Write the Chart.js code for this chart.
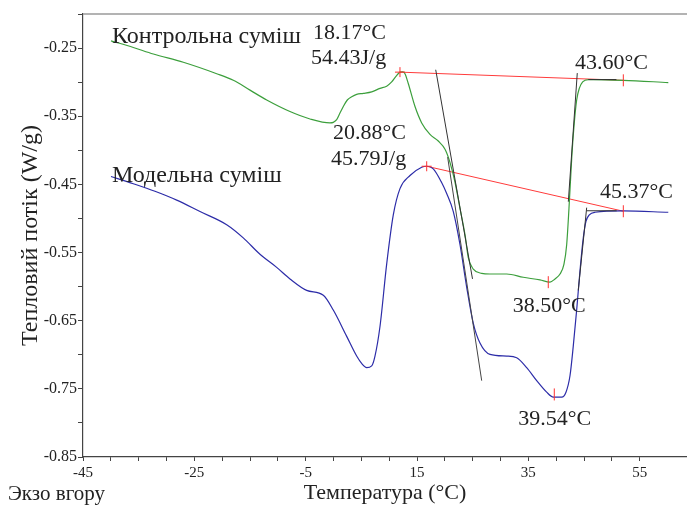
<!DOCTYPE html>
<html>
<head>
<meta charset="utf-8">
<script src="https://cdn.jsdelivr.net/npm/chart.js@4.4.0/dist/chart.umd.min.js"></script>
<style>
  body { margin: 0; background: #fff; }
  #wrap { width: 687px; height: 505px; }
</style>
</head>
<body>
<div id="wrap"><canvas id="dsc" width="687" height="505"></canvas></div>
<script>
// Контрольна суміш (green)
var controlTemp = [-39.97, -35.96, -32.37, -26.98, -20.98, -18.0, -15.0, -12.0, -7.82, -4.22, -0.63, -0.04, 0.57, 1.16, 1.76, 2.48, 3.27, 4.16, 5.35, 6.86, 8.35, 9.55, 10.45, 11.22, 11.94, 12.43, 12.84, 13.43, 14.64, 15.84, 17.33, 18.82, 20.03, 20.92, 21.82, 22.72, 23.62, 24.21, 25.11, 26.62, 28.11, 31.11, 34.09, 37.09, 38.89, 39.79, 40.69, 41.40, 41.89, 42.30, 42.78, 43.20, 43.68, 44.15, 44.76, 45.77, 46.67, 52.06, 60.14];
var controlFlow = [-0.2394, -0.2491, -0.2587, -0.2708, -0.2876, -0.2973, -0.3117, -0.3262, -0.3431, -0.3540, -0.3598, -0.3590, -0.3551, -0.3454, -0.3358, -0.3262, -0.3214, -0.3179, -0.3165, -0.3142, -0.3092, -0.3059, -0.2997, -0.2915, -0.2853, -0.2847, -0.2876, -0.3020, -0.3358, -0.3598, -0.3767, -0.3864, -0.3984, -0.4176, -0.4465, -0.4851, -0.5237, -0.5574, -0.5743, -0.5805, -0.5815, -0.5815, -0.5863, -0.5902, -0.5935, -0.5887, -0.5815, -0.5670, -0.5381, -0.4851, -0.4129, -0.3647, -0.3262, -0.3092, -0.2997, -0.2962, -0.2962, -0.2973, -0.3006];

// Модельна суміш (blue)
var modelTemp = [-39.97, -35.96, -32.07, -28.17, -23.98, -19.19, -16.21, -13.21, -10.21, -7.82, -4.82, -1.83, -0.04, 2.37, 4.16, 5.12, 5.96, 6.86, 7.45, 8.35, 9.55, 10.74, 11.94, 13.74, 15.84, 16.74, 17.92, 19.4, 20.33, 21.52, 22.72, 23.92, 25.11, 26.31, 28.11, 31.11, 32.90, 34.70, 36.50, 38.29, 39.48, 40.99, 41.76, 42.48, 43.07, 43.68, 44.28, 44.87, 45.35, 45.95, 46.97, 52.06, 60.14];
var modelFlow = [-0.4384, -0.4490, -0.4601, -0.4731, -0.4899, -0.5092, -0.5285, -0.5526, -0.5718, -0.5887, -0.6055, -0.6127, -0.6344, -0.6730, -0.7019, -0.7134, -0.7188, -0.7163, -0.7019, -0.6585, -0.5670, -0.4948, -0.4562, -0.4370, -0.4249, -0.4234, -0.4273, -0.4470, -0.4635, -0.4899, -0.5382, -0.6007, -0.6538, -0.6827, -0.6994, -0.7019, -0.7043, -0.7188, -0.7380, -0.7549, -0.7621, -0.7621, -0.7549, -0.7308, -0.6874, -0.6344, -0.5766, -0.5285, -0.5043, -0.4948, -0.4909, -0.4890, -0.4909];

// integration baselines (red)
var controlBaseTemp = [11.94, 52.06];
var controlBaseFlow = [-0.2853, -0.2973];
var modelBaseTemp = [16.74, 52.06];
var modelBaseFlow = [-0.4234, -0.4894];

// onset / endset tangents (black)
var controlOnsetTemp = [18.36, 24.97];
var controlOnsetFlow = [-0.2818, -0.5887];
var modelOnsetTemp = [20.5, 26.62];
var modelOnsetFlow = [-0.41, -0.738];
var controlEndTemp = [43.79, 42.18];
var controlEndFlow = [-0.2867, -0.4754];
var controlFlatTemp = [45.77, 50.82];
var controlFlatFlow = [-0.2962, -0.2962];
var modelEndTemp = [45.48, 43.97];
var modelEndFlow = [-0.4841, -0.6055];
var modelFlatTemp = [45.48, 50.87];
var modelFlatFlow = [-0.4887, -0.4887];

// red markers
var crossTemp = [11.94, 16.74];
var crossFlow = [-0.2853, -0.4234];
var tickTemp = [52.06, 52.06, 38.58, 39.66];
var tickFlow = [-0.2973, -0.4894, -0.5935, -0.7582];

// text notes
var noteText = ["Контрольна суміш", "18.17°C", "54.43J/g", "43.60°C", "20.88°C", "45.79J/g", "Модельна суміш", "45.37°C", "38.50°C", "39.54°C"];
var noteTemp = [-39.79, -3.68, -4.04, 43.38, -0.09, -0.45, -39.79, 47.87, 32.19, 33.19];
var noteFlow = [-0.2423, -0.2366, -0.2727, -0.2814, -0.3840, -0.4215, -0.4461, -0.4707, -0.6368, -0.8030];
var noteSize = [24, 22, 22, 22, 22, 22, 24, 22, 22, 22];

var xTickLabels = ["-45", "-25", "-5", "15", "35", "55"];
var yTickLabels = ["-0.85", "-0.75", "-0.65", "-0.55", "-0.45", "-0.35", "-0.25"];

var serif = '"Liberation Serif", "Times New Roman", serif';

function pts(xs, ys) {
    return xs.map(function (v, i) { return { x: v, y: ys[i] }; });
}

function seg(xs, ys, color) {
    return {
        data: pts(xs, ys),
        borderColor: color,
        borderWidth: 1,
        pointRadius: 0,
        fill: false
    };
}

var notesPlugin = {
    id: 'notes',
    afterDraw: function (chart) {
        var ctx = chart.ctx;
        var area = chart.chartArea;
        var x = chart.scales.x;
        var y = chart.scales.y;
        ctx.save();
        ctx.strokeStyle = '#9a9a9a';
        ctx.lineWidth = 1.5;
        ctx.beginPath();
        ctx.moveTo(area.left, area.top);
        ctx.lineTo(area.right, area.top);
        ctx.stroke();

        ctx.fillStyle = '#222';
        ctx.textAlign = 'left';
        ctx.textBaseline = 'alphabetic';
        for (var i = 0; i < noteText.length; i++) {
            ctx.font = noteSize[i] + 'px ' + serif;
            ctx.fillText(noteText[i], x.getPixelForValue(noteTemp[i]), y.getPixelForValue(noteFlow[i]));
        }
        ctx.font = '21px ' + serif;
        ctx.fillText('Экзо вгору', 8, chart.height - 5);
        ctx.restore();
    }
};

var datasets = [
    {
        type: 'scatter',
        data: pts(crossTemp, crossFlow),
        pointStyle: 'cross',
        pointRadius: 5,
        borderColor: '#ff3030',
        borderWidth: 1
    },
    {
        type: 'scatter',
        data: pts(tickTemp, tickFlow),
        pointStyle: 'line',
        rotation: 90,
        pointRadius: 6,
        borderColor: '#ff3030',
        borderWidth: 1
    },
    seg(controlOnsetTemp, controlOnsetFlow, '#333'),
    seg(modelOnsetTemp, modelOnsetFlow, '#444'),
    seg(controlEndTemp, controlEndFlow, '#333'),
    seg(controlFlatTemp, controlFlatFlow, '#333'),
    seg(modelEndTemp, modelEndFlow, '#333'),
    seg(modelFlatTemp, modelFlatFlow, '#333'),
    {
        label: 'Контрольна суміш',
        data: pts(controlTemp, controlFlow),
        borderColor: '#3c9f3c',
        borderWidth: 1.2,
        pointRadius: 0,
        cubicInterpolationMode: 'monotone'
    },
    {
        label: 'Модельна суміш',
        data: pts(modelTemp, modelFlow),
        borderColor: '#2c2ca8',
        borderWidth: 1.2,
        pointRadius: 0,
        cubicInterpolationMode: 'monotone'
    },
    seg(controlBaseTemp, controlBaseFlow, '#ff3b3b'),
    seg(modelBaseTemp, modelBaseFlow, '#ff3b3b')
];

var chart = new Chart(document.getElementById('dsc'), {
    type: 'line',
    data: { datasets: datasets },
    plugins: [notesPlugin],
    options: {
        responsive: false,
        animation: false,
        layout: { autoPadding: false, padding: { left: 0, top: 14, right: 0, bottom: 0 } },
        plugins: {
            legend: { display: false },
            tooltip: { enabled: false }
        },
        scales: {
            x: {
                type: 'linear',
                min: -45,
                max: 63.5,
                afterFit: function (scale) {
                    scale.height = 48;
                    scale.paddingLeft = 0;
                    scale.paddingRight = 0;
                },
                border: { color: '#444', width: 1.2 },
                grid: { drawOnChartArea: false, tickLength: 4, color: '#444' },
                ticks: {
                    stepSize: 5,
                    autoSkip: false,
                    maxRotation: 0,
                    padding: 3,
                    color: '#222',
                    font: { family: serif, size: 15 },
                    callback: function (value) {
                        var k = Math.round(value + 45);
                        if (k % 20 !== 0) return '';
                        return xTickLabels[k / 20] || '';
                    }
                },
                title: {
                    display: true,
                    text: 'Температура (°C)',
                    color: '#222',
                    font: { family: serif, size: 22, lineHeight: 1 },
                    padding: { top: 0, bottom: 1 }
                }
            },
            y: {
                min: -0.85,
                max: -0.2,
                afterFit: function (scale) {
                    scale.width = 83;
                    scale.paddingTop = 0;
                    scale.paddingBottom = 0;
                },
                border: { color: '#444', width: 1.2 },
                grid: { drawOnChartArea: false, tickLength: 5, color: '#444' },
                ticks: {
                    stepSize: 0.05,
                    autoSkip: false,
                    padding: 1,
                    color: '#222',
                    font: { family: serif, size: 16 },
                    callback: function (value, index) {
                        if (index % 2 !== 0) return '';
                        return yTickLabels[index / 2] || '';
                    }
                },
                title: {
                    display: true,
                    text: 'Тепловий потік (W/g)',
                    color: '#222',
                    font: { family: serif, size: 24 },
                    padding: { top: 16, bottom: 0 }
                }
            }
        }
    }
});
</script>
</body>
</html>
